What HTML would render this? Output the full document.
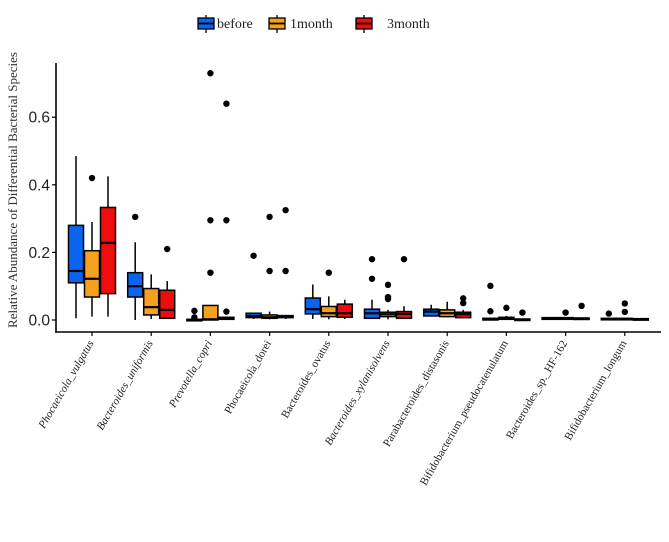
<!DOCTYPE html>
<html><head><meta charset="utf-8">
<style>
body{margin:0;background:#fff;width:669px;height:542px;overflow:hidden}
svg{display:block}
</style></head>
<body>
<svg id="chart" width="669" height="542" xmlns="http://www.w3.org/2000/svg">
<g id="legend"></g>
<g id="plot"></g>
<g id="axes"></g>
</svg>
<script>
const categories=["Phocaeicola_vulgatus","Bacteroides_uniformis","Prevotella_copri","Phocaeicola_dorei","Bacteroides_ovatus","Bacteroides_xylanisolvens","Parabacteroides_distasonis","Bifidobacterium_pseudocatenulatum","Bacteroides_sp._HF-162","Bifidobacterium_longum"];
const italicCats=[true,true,true,false,false,true,false,false,false,false];
const groups=["before","1month","3month"];
const groupColors=["#0a64f0","#f5a01e","#ee0c0c"];
// each stat: [min, q1, median, q3, max]
const statsBefore=[[0.005,0.11,0.145,0.28,0.485],[0.0,0.068,0.1,0.14,0.23],[0,0,0.001,0.002,0.003],[0.003,0.007,0.012,0.02,0.022],[0.003,0.018,0.032,0.065,0.105],[0.003,0.005,0.02,0.032,0.06],[0.01,0.012,0.025,0.032,0.045],[0,0,0.002,0.005,0.006],[0.001,0.002,0.004,0.007,0.008],[0,0.001,0.002,0.005,0.006]];
const stats1month=[[0.01,0.068,0.122,0.205,0.29],[0.003,0.015,0.038,0.093,0.135],[0,0,0.002,0.043,0.043],[0.002,0.005,0.008,0.015,0.025],[0.002,0.01,0.02,0.04,0.07],[0.002,0.01,0.017,0.023,0.03],[0.008,0.01,0.02,0.03,0.054],[0.001,0.002,0.005,0.008,0.012],[0.001,0.002,0.004,0.007,0.008],[0,0.001,0.002,0.005,0.006]];
const stats3month=[[0.01,0.078,0.228,0.333,0.425],[0.003,0.005,0.03,0.088,0.115],[0,0.002,0.005,0.008,0.01],[0.003,0.007,0.01,0.013,0.015],[0.003,0.008,0.02,0.047,0.06],[0.003,0.005,0.018,0.025,0.041],[0.005,0.007,0.017,0.023,0.03],[0,0,0.001,0.003,0.004],[0.001,0.002,0.004,0.006,0.008],[0,0.001,0.002,0.004,0.005]];
const outliersBefore=[[],[0.305],[0.008,0.027],[0.19],[],[0.18,0.122],[],[0.101,0.026],[],[0.019]];
const outliers1month=[[0.42],[],[0.73,0.295,0.14],[0.305,0.145],[0.14],[0.104,0.068,0.062],[],[0.036],[0.022],[0.049,0.024]];
const outliers3month=[[],[0.21],[0.64,0.295,0.025],[0.325,0.145],[],[0.18],[0.064,0.05],[0.022],[0.042],[]];
const yTicks=[0.0,0.2,0.4,0.6];
const yTickLabels=["0.0","0.2","0.4","0.6"];

const NS="http://www.w3.org/2000/svg";
const X0=56,Xend=661,Y0=320,PXU=338,Ybase=332;
const catStart=92,catStep=59.2,boxW=16;
const yS=v=>Y0-v*PXU;
const xS=i=>catStart+i*catStep;
function mk(tag,attrs,parent){const e=document.createElementNS(NS,tag);for(const k in attrs)e.setAttribute(k,attrs[k]);parent.appendChild(e);return e;}
const plot=document.getElementById('plot'),axes=document.getElementById('axes'),legend=document.getElementById('legend');
const allStats=[statsBefore,stats1month,stats3month];
const allOut=[outliersBefore,outliers1month,outliers3month];
categories.forEach((c,i)=>{
  groups.forEach((g,gi)=>{
    const s=allStats[gi][i];
    const cx=xS(i)+(gi-1)*boxW;
    const grp=mk('g',{},plot);
    
    
    mk('line',{x1:cx,x2:cx,y1:yS(s[0]),y2:yS(s[4]),stroke:'#000','stroke-width':1.5},grp);
    const top=yS(s[3]),bot=yS(s[1]);
    mk('rect',{x:cx-boxW/2+0.5,y:top,width:boxW-1,height:Math.max(bot-top,1.5),fill:groupColors[gi],stroke:'#000','stroke-width':1.5},grp);
    mk('line',{x1:cx-boxW/2+0.5,x2:cx+boxW/2-0.5,y1:yS(s[2]),y2:yS(s[2]),stroke:'#000','stroke-width':2.2},grp);
    allOut[gi][i].forEach(v=>{
      const p=mk('circle',{cx:cx,cy:yS(v),r:3.2,fill:'#000'},grp);
      
      
    });
  });
  const tx=xS(i);
  mk('line',{x1:tx,x2:tx,y1:Ybase,y2:Ybase+4,stroke:'#000','stroke-width':1.2},axes);
  const ly=Ybase+11;
  const t=mk('text',{x:tx+2,y:ly,'text-anchor':'end',transform:`rotate(-60 ${tx+2} ${ly})`,'font-family':'"Liberation Serif",serif','font-size':'11.2','font-style':italicCats[i]?'italic':'normal',fill:'#222'},axes);
  t.textContent=c;
  
  
});
const ya=mk('line',{x1:X0,x2:X0,y1:63,y2:Ybase+0.8,stroke:'#000','stroke-width':1.6},axes);

const xa=mk('line',{x1:X0-0.8,x2:Xend,y1:Ybase,y2:Ybase,stroke:'#000','stroke-width':1.6},axes);

yTicks.forEach((v,k)=>{
  mk('line',{x1:X0-4,x2:X0,y1:yS(v),y2:yS(v),stroke:'#000','stroke-width':1.2},axes);
  const t=mk('text',{x:X0-6,y:yS(v)+5.5,'text-anchor':'end','font-family':'"Liberation Sans",sans-serif','font-size':'15.5',fill:'#222'},axes);
  t.textContent=yTickLabels[k];
  
  
});
const yt=mk('text',{x:17,y:190,'text-anchor':'middle',transform:'rotate(-90 17 190)','font-family':'"Liberation Serif",serif','font-size':'13',fill:'#333'},axes);
yt.textContent='Relative Abundance of Differential Bacterial Species';


const legX=[206,277,364],legTX=[217,290,387];
groups.forEach((g,gi)=>{
  const lg=mk('g',{},legend);
  
  
  const cx=legX[gi];
  mk('line',{x1:cx,x2:cx,y1:15,y2:33,stroke:'#000','stroke-width':1.3},lg);
  mk('rect',{x:cx-8,y:18,width:16,height:11,fill:groupColors[gi],stroke:'#000','stroke-width':1.3},lg);
  mk('line',{x1:cx-8,x2:cx+8,y1:23.5,y2:23.5,stroke:'#000','stroke-width':1.8},lg);
  const t=mk('text',{x:legTX[gi],y:28,'font-family':'"Liberation Serif",serif','font-size':'14',fill:'#222'},lg);
  t.textContent=g;
});
</script>
</body></html>
